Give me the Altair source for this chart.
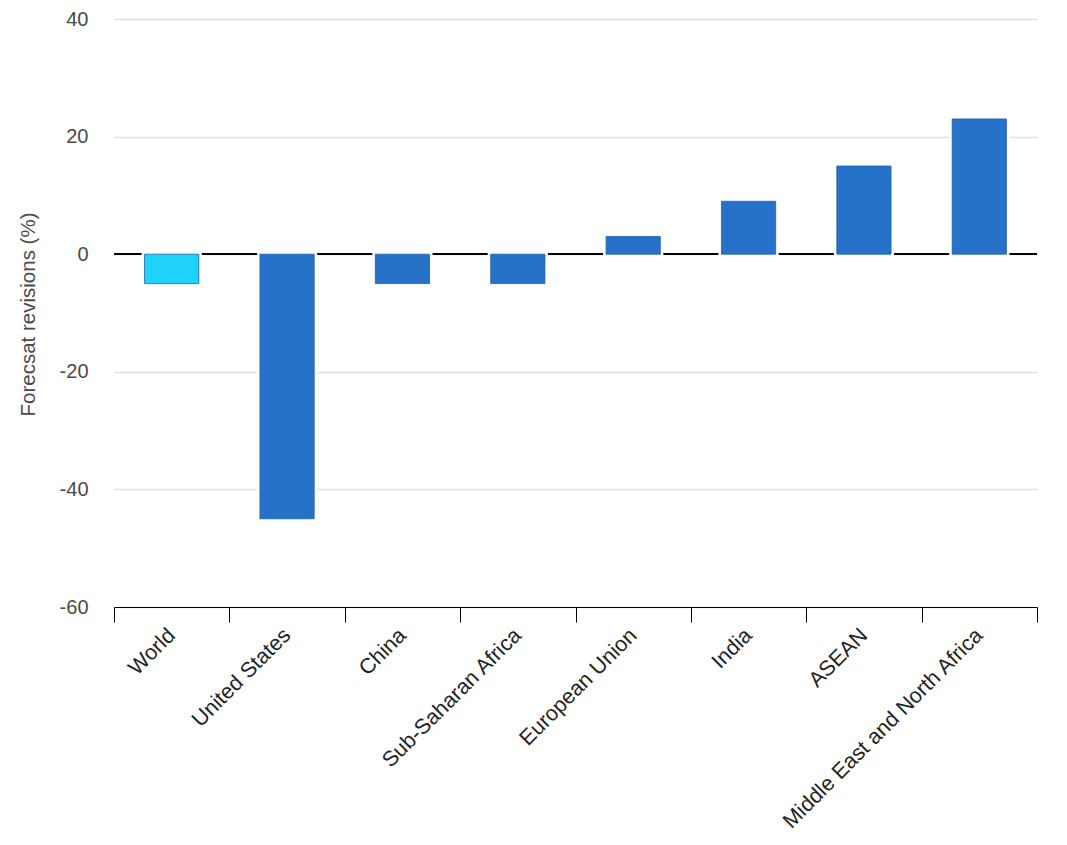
import altair as alt
import pandas as pd

categories = ["World", "United States", "China", "Sub-Saharan Africa",
              "European Union", "India", "ASEAN", "Middle East and North Africa"]
values = [-5, -45, -5, -5, 3, 9, 15, 23]
groups = ["World", "Region", "Region", "Region", "Region", "Region", "Region", "Region"]

df = pd.DataFrame({"cat": categories, "val": values, "grp": groups})

FONT = "Liberation Sans"

x = alt.X("cat:N", sort=categories, title=None,
          scale=alt.Scale(paddingInner=0, paddingOuter=0),
          axis=alt.Axis(labelAngle=-45, labelAlign="right", labelBaseline="middle",
                        labelFontSize=21.5, labelColor="#222", labelFont=FONT,
                        labelLimit=400,
                        domainColor="#000", tickColor="#000", tickSize=15,
                        tickBand="extent", labelPadding=10, grid=False))
y = alt.Y("val:Q", title="Forecsat revisions (%)",
          scale=alt.Scale(domain=[-60, 40], nice=False),
          axis=alt.Axis(values=[-60, -40, -20, 0, 20, 40], ticks=False, domain=False,
                        labelExpr="'' + datum.value", grid=True,
                        labelFontSize=20, labelColor="#4a4a4a", labelFont=FONT,
                        labelPadding=26, gridColor="#e0e0e0", gridWidth=1.5,
                        titleFontSize=20.5, titleColor="#4a4a4a", titleFont=FONT,
                        titleFontWeight="normal", titleAngle=-90,
                        titleX=-86, titleY=295, titleAlign="center",
                        titleBaseline="middle"))

color = alt.Color("grp:N", scale=alt.Scale(domain=["World", "Region"],
                                          range=["#1fd2f7", "#2672c8"]), legend=None)

zero = alt.Chart(df).mark_rule(color="#000", strokeWidth=1.5).encode(
    y=alt.Y(datum=0, scale=alt.Scale(domain=[-60, 40], nice=False))
)

bar_w = alt.RelativeBandSize(0.47)

halo = alt.Chart(df).mark_bar(color="white", stroke="white", strokeWidth=6,
                              width=bar_w).encode(x=x, y=y)

bars = alt.Chart(df).mark_bar(stroke="#1f60ab", strokeWidth=0.8,
                              width=bar_w).encode(x=x, y=y, color=color)

chart = alt.layer(halo, zero, halo, bars).properties(
    width=923, height=588,
    autosize=alt.AutoSizeParams(type="none"),
    padding={"left": 106, "top": 11, "right": 22, "bottom": 232}
).configure_view(stroke=None)

chart.save("out.html", embed_options={"renderer": "svg", "actions": False})
